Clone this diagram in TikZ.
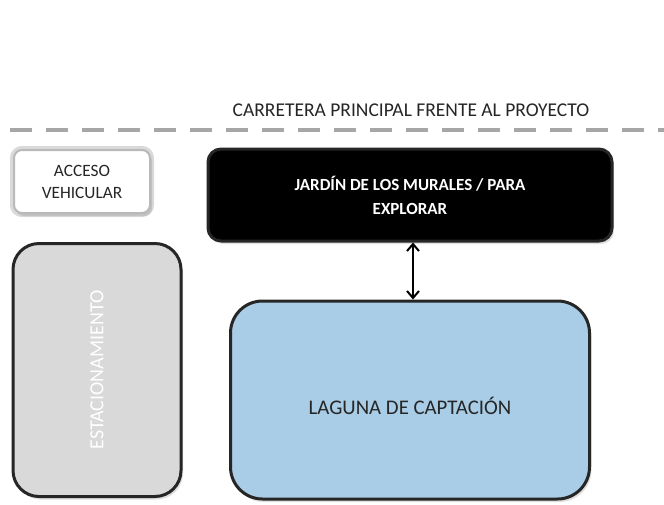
\documentclass[tikz,border=0pt]{standalone}
\usepackage{fontspec}
\setmainfont{Carlito}
\usetikzlibrary{shadows,arrows.meta}
\definecolor{roadgray}{HTML}{A6A6A6}
\definecolor{parkgray}{HTML}{D9D9D9}
\definecolor{lagoon}{HTML}{A9CCE7}
\definecolor{edge}{HTML}{262626}
\tikzset{
  zone/.style={draw=edge, line width=3pt, align=center, inner sep=0pt},
  shade/.style={drop shadow={shadow xshift=2pt, shadow yshift=-3pt, opacity=0.25}},
}
\begin{document}
\begin{tikzpicture}[x=1pt,y=-1pt]
\useasboundingbox[fill=white] (0,0) rectangle (664,504);
% title and road
\node[font=\fontsize{19.5}{22}\selectfont, text=black!85] (title) at (411,110) {CARRETERA PRINCIPAL FRENTE AL PROYECTO};
\coordinate (roadL) at (0,130);
\coordinate (roadR) at (664,130);
\draw[roadgray, line width=4.5pt, dash pattern=on 22pt off 14pt, dash phase=-10pt] (roadL) -- (roadR);
% access
\draw[gray!30, line width=6pt, rounded corners=9pt] (13,149) rectangle (151,214);
\node[draw=gray!55, line width=2pt, fill=white, rounded corners=8pt, minimum width=136pt, minimum height=63pt, align=center, font=\fontsize{17.3}{22}\selectfont, text=black!85, shade] (acc) at (82,181.5) {ACCESO\\VEHICULAR};
% garden
\node[zone, fill=black, rounded corners=13pt, minimum width=404pt, minimum height=92pt, text=white, font=\bfseries\fontsize{17}{24}\selectfont, shade] (jardin) at (410,195) {JARDÍN DE LOS MURALES / PARA\\EXPLORAR};
% parking
\node[zone, fill=parkgray, rounded corners=26pt, minimum width=168pt, minimum height=253pt, shade] (park) at (97,370) {};
\node[rotate=90, text=white, font=\fontsize{20}{22}\selectfont] (parktext) at (park.center) {ESTACIONAMIENTO};
% lagoon
\node[zone, fill=lagoon, rounded corners=32pt, minimum width=359pt, minimum height=198pt, shade] (laguna) at (410,400) {};
\node[font=\fontsize{20.8}{23}\selectfont, text=black!85] (lagtext) at (410,406) {LAGUNA DE CAPTACIÓN};
% connector
\draw[{Straight Barb[length=7pt,width=12pt]}-{Straight Barb[length=7pt,width=12pt]}, line width=2pt, black] ([xshift=3pt]jardin.south) -- ([xshift=3pt]laguna.north);
\end{tikzpicture}
\end{document}
